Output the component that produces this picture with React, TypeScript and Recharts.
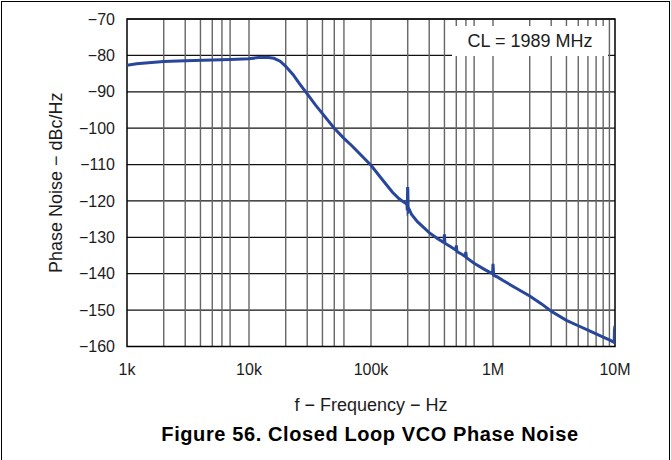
import React from 'react'
import { CartesianGrid, Legend, Line, LineChart, ReferenceArea, XAxis, YAxis } from 'recharts'

const freqHz = [
  1000, 1200, 1500, 2000, 3000, 5000, 7000, 10000, 12000, 14000, 16000, 18000, 20000, 23000, 26000,
  30000, 35000, 40000, 50000, 60000, 70000, 85000, 100000, 125000, 150000, 170000, 185000, 192000,
  197000, 198500, 199500, 200500, 201500, 206000, 215000, 240000, 300000, 350000, 390000, 397000,
  400000, 403000, 450000, 490000, 497000, 501000, 506000, 560000, 593000, 598000, 606000, 700000,
  850000, 975000, 993000, 1000000, 1012000, 1100000, 1200000, 1500000, 2000000, 2500000, 3000000,
  4000000, 5000000, 6000000, 7000000, 8000000, 9000000, 9500000, 9750000, 9850000, 9900000, 10000000,
]
const phaseNoise = [
  -82.7, -82.3, -82.0, -81.7, -81.5, -81.3, -81.1, -80.9, -80.6, -80.5, -80.8, -81.6, -83.0, -85.3,
  -87.8, -90.6, -93.6, -96.0, -100.0, -102.8, -104.9, -107.8, -110.2, -114.3, -117.6, -119.4, -120.3,
  -120.6, -121.0, -122.6, -116.2, -117.0, -122.9, -122.4, -123.7, -125.7, -128.7, -130.3, -131.3,
  -131.4, -129.2, -131.6, -132.6, -133.4, -133.5, -132.2, -133.9, -134.7, -135.3, -134.0, -135.6,
  -137.1, -138.8, -139.9, -140.0, -137.3, -140.4, -141.0, -141.8, -143.7, -146.1, -148.3, -150.3,
  -152.8, -154.3, -155.5, -156.5, -157.4, -158.2, -158.6, -158.8, -158.4, -155.5, -154.3,
]

const xTicks = [1000, 10000, 100000, 1000000, 10000000]
const xTickLabels = ['1k', '10k', '100k', '1M', '10M']
const yTicks = [-160, -150, -140, -130, -120, -110, -100, -90, -80, -70]
const gridMultipliers = [2, 3, 4, 5, 6, 7, 8, 9]
const gridDecades = [1000, 10000, 100000, 1000000]

const data = freqHz.map((f, i) => ({ f, pn: phaseNoise[i] }))
const gridFreqs = gridDecades.flatMap((d) => [d, ...gridMultipliers.map((m) => d * m)]).filter((f) => f > 1000)

const FONT = '"Liberation Sans", Arial, Helvetica, sans-serif'
const TEXT = '#1c1c1c'
const MINUS = '\u2212'

const fmtX = (v: number) => xTickLabels[xTicks.indexOf(v)] ?? ''
const fmtY = (v: number) => String(v).replace('-', MINUS)

const CondLegend = () => (
  <div
    style={{
      width: 156,
      height: 30,
      lineHeight: '30px',
      background: '#fff',
      textAlign: 'center',
      fontSize: 18,
      color: TEXT,
      fontFamily: FONT,
    }}
  >
    CL = 1989 MHz
  </div>
)

export default function App() {
  return (
    <div
      style={{
        position: 'absolute',
        left: 0,
        top: 0,
        width: 671,
        height: 460,
        background: '#fff',
        fontFamily: FONT,
        overflow: 'hidden',
      }}
    >
      <div
        style={{
          position: 'absolute',
          left: 1,
          top: 1,
          width: 669,
          height: 470,
          boxSizing: 'border-box',
          border: '1px solid #000',
        }}
      />
      <LineChart width={671} height={460} data={data} margin={{ top: 19, right: 56, left: 0, bottom: 0 }}>
        <CartesianGrid horizontal vertical={false} stroke="#111" strokeWidth={1.2} />
        <CartesianGrid horizontal={false} vertical verticalValues={gridFreqs} stroke="#666" strokeWidth={1.4} />
        <XAxis
          dataKey="f"
          type="number"
          scale="log"
          domain={[1000, 10000000]}
          allowDataOverflow
          ticks={xTicks}
          tickFormatter={fmtX}
          axisLine={false}
          tickLine={false}
          tickSize={0}
          tickMargin={17}
          height={113.5}
          tick={{ fontSize: 16, fill: TEXT }}
          label={{ value: `f ${MINUS} Frequency ${MINUS} Hz`, position: 'insideBottom', offset: 49.3, fontSize: 18, fill: TEXT }}
        />
        <YAxis
          type="number"
          domain={[-160, -70]}
          ticks={yTicks}
          tickFormatter={fmtY}
          axisLine={false}
          tickLine={false}
          tickSize={0}
          tickMargin={12}
          width={127}
          tick={{ fontSize: 16, fill: TEXT }}
          label={{
            content: ({ viewBox }: any) => (
              <text
                x={viewBox.x + 55.5}
                y={viewBox.y + viewBox.height / 2}
                transform={`rotate(-90 ${viewBox.x + 55.5} ${viewBox.y + viewBox.height / 2})`}
                textAnchor="middle"
                dominantBaseline="central"
                fontSize={18}
                fill={TEXT}
              >
                {`Phase Noise ${MINUS} dBc/Hz`}
              </text>
            ),
          }}
        />
        <ReferenceArea x1={1000} x2={10000000} y1={-160} y2={-70} fill="none" stroke="#000" strokeWidth={1.5} />
        <Legend
          layout="horizontal"
          verticalAlign="middle"
          align="center"
          wrapperStyle={{ left: 452, top: 26, width: 156, height: 30 }}
          content={() => <CondLegend />}
        />
        <Line dataKey="pn" type="linear" dot={false} stroke="#28479b" strokeWidth={3} isAnimationActive={false} />
      </LineChart>
      <div
        style={{
          position: 'absolute',
          left: 70,
          top: 422,
          width: 600,
          lineHeight: '24px',
          textAlign: 'center',
          fontSize: 20,
          fontWeight: 'bold',
          letterSpacing: 0.6,
          color: '#000',
        }}
      >
        Figure 56. Closed Loop VCO Phase Noise
      </div>
    </div>
  )
}
